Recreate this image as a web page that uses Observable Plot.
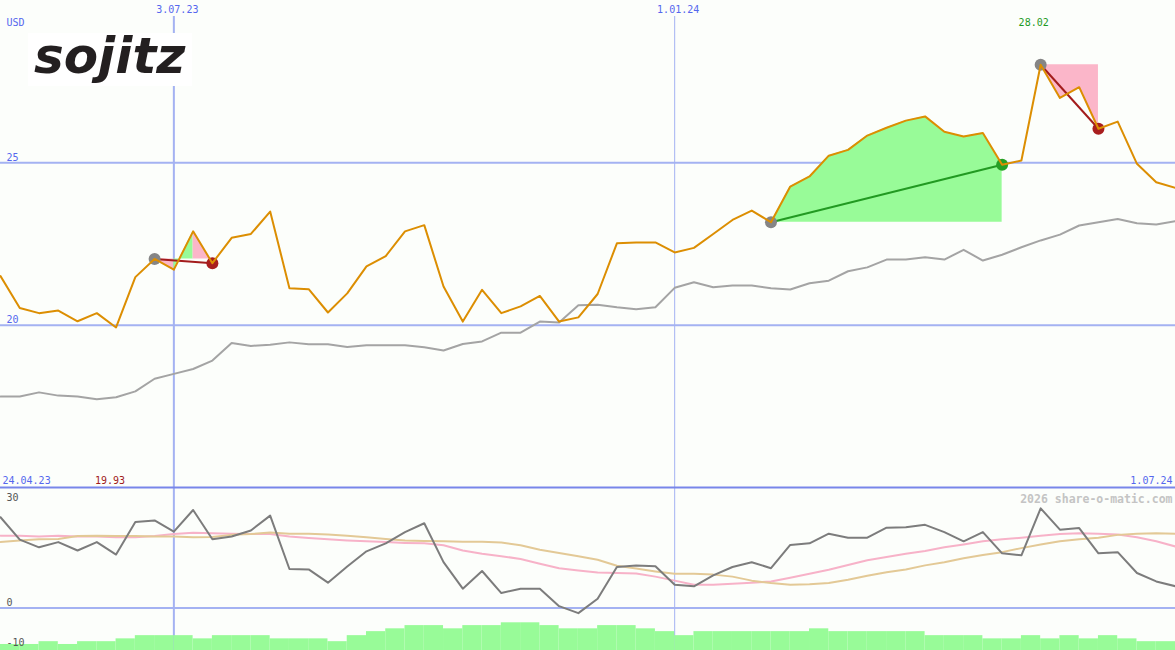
<!DOCTYPE html>
<html><head><meta charset="utf-8">
<script src="https://cdn.jsdelivr.net/npm/d3@7"></script>
<script src="https://cdn.jsdelivr.net/npm/@observablehq/plot@0.6"></script>
<style>
html,body{margin:0;padding:0;background:#fcfefb;}
#wrap{position:relative;width:1175px;height:650px;overflow:hidden;background:#fcfefb;}
#wrap svg{position:absolute;left:0;display:block;overflow:hidden;}
#logo{position:absolute;left:28px;top:33px;width:164px;height:53px;background:#fff;}
#logo span{position:absolute;left:6px;top:0px;font-family:"DejaVu Sans",sans-serif;font-weight:bold;font-style:oblique;font-size:50px;line-height:46px;color:#231f20;white-space:nowrap;}
</style></head><body>
<div id="wrap"><div id="logo"><span id="brand"></span></div></div>
<script>
// ---- data (weekly closes, USD) ----
const firstWeek = "2023-05-01";
const lastWeek = "2024-07-01";
const axisStartLabel = "2023-04-24";
const currency = "USD";
const brand = "sojitz";
const credit = "2026 share-o-matic.com";

const price = [21.51,20.53,20.37,20.45,20.12,20.37,19.93,21.48,22.04,21.71,
  22.89,21.91,22.69,22.81,23.50,21.14,21.11,20.39,20.98,21.81,
  22.13,22.89,23.08,21.19,20.11,21.09,20.37,20.58,20.90,20.11,
  20.24,20.96,22.52,22.55,22.55,22.24,22.38,22.81,23.24,23.53,
  23.17,24.27,24.58,25.22,25.40,25.84,26.08,26.30,26.43,25.96,
  25.81,25.92,24.94,25.07,28.02,27.00,27.33,26.05,26.27,24.97,
  24.40,24.23];
const movingAvg = [17.80,17.80,17.93,17.83,17.80,17.72,17.78,17.96,18.35,18.50,
  18.65,18.91,19.45,19.36,19.40,19.47,19.41,19.41,19.33,19.38,
  19.38,19.38,19.32,19.22,19.42,19.50,19.77,19.77,20.11,20.08,
  20.61,20.63,20.55,20.49,20.55,21.15,21.32,21.17,21.22,21.22,
  21.14,21.10,21.29,21.37,21.66,21.78,22.02,22.02,22.09,22.02,
  22.32,21.99,22.17,22.40,22.61,22.79,23.07,23.17,23.27,23.14,
  23.10,23.20];
const oscillator = [22.6,17.0,15.1,16.4,14.3,16.4,13.3,21.4,21.8,19.0,
  24.4,17.1,17.8,19.3,23.0,9.7,9.6,6.3,10.3,14.1,
  16.1,18.9,21.1,11.4,4.8,9.2,3.7,4.8,4.8,0.45,
  -1.3,2.3,10.2,10.6,10.4,5.8,5.4,8.1,10.2,11.4,
  9.9,15.7,16.1,18.5,17.5,17.5,20.0,20.1,20.7,18.9,
  16.6,18.9,13.6,13.1,24.8,19.5,19.9,13.6,13.9,8.7,
  6.6,5.4];
const oscFast = [18.0,18.0,17.8,18.0,17.8,17.8,17.6,17.6,17.9,18.4,
  18.7,18.6,18.5,18.4,18.4,17.8,17.4,17.1,16.8,16.6,
  16.4,16.2,16.1,15.6,14.3,13.5,12.9,12.2,11.0,9.9,
  9.3,8.8,8.7,8.6,7.8,6.8,5.8,5.8,6.0,6.3,
  6.6,7.5,8.5,9.5,10.7,11.9,12.7,13.5,14.2,15.1,
  15.8,16.6,17.1,17.5,18.0,18.4,18.6,18.5,18.3,17.6,
  16.6,15.3];
const oscSlow = [16.4,16.8,17.1,17.2,17.9,18.0,17.9,17.9,17.8,17.8,
  17.6,17.7,18.2,18.4,18.8,18.5,18.5,18.3,18.0,17.6,
  17.2,16.8,16.7,16.6,16.5,16.5,16.3,15.6,14.5,13.7,
  12.9,12.0,10.5,9.8,9.1,8.5,8.5,8.3,7.8,6.8,
  6.2,5.8,5.9,6.2,7.0,8.0,8.9,9.6,10.6,11.4,
  12.4,13.2,13.9,14.9,15.8,16.6,17.1,17.5,18.2,18.5,
  18.6,18.5];
const volume = [1.5,1.5,2.2,1.5,2.2,2.2,2.9,3.7,3.7,3.7,
  2.9,3.7,3.7,3.7,2.9,2.9,2.9,2.2,3.7,4.7,
  5.4,6.2,6.2,5.4,6.2,6.2,6.9,6.9,6.2,5.4,
  5.4,6.2,6.2,5.4,4.7,3.7,4.7,4.7,4.7,4.7,
  4.7,4.7,5.4,4.7,4.7,4.7,4.7,4.7,3.7,3.7,
  3.7,2.9,2.9,3.7,2.9,3.7,2.9,3.7,2.9,2.2,
  2.2,2.2];
const gridDates = ["2023-07-03","2024-01-01"];
const gridWeights = [2, 1];
const priceTicks = [20, 25];
const priceDomain = [15, 30];
const oscTopTick = [30];
const oscTicks = [0, -10];
const oscDomain = [-10.6, 30];
const tradeStart = [8, 40, 54];
const tradeEnd = [11, 52, 57];

// ---- derived ----
document.getElementById("brand").textContent = brand;
const dates = d3.utcMonday.range(new Date(firstWeek), d3.utcDay.offset(new Date(lastWeek), 1));
const gd = gridDates.map(d => new Date(d));
const fmtDate = d3.utcFormat("%-d.%m.%y");
const fmtPrice = d3.format(".2f");
const rows = dates.map((date, i) => ({date, i, price: price[i], ma: movingAvg[i], osc: oscillator[i],
  fast: oscFast[i], slow: oscSlow[i], vol: volume[i], next: dates[i + 1] || d3.utcDay.offset(date, 7)}));
const iMin = d3.minIndex(price), iMax = d3.maxIndex(price);

const trades = tradeStart.map((s, t) => {
  const e = tradeEnd[t];
  return {s, e, d1: dates[s], d2: dates[e], p1: price[s], p2: price[e], gain: price[e] >= price[s]};
});
// fill runs: consecutive segments coloured by whether they end above the entry price
const segs = [];
trades.forEach((tr, t) => {
  let run = -1, prev = null;
  for (let i = tr.s; i < tr.e; i++) {
    const up = price[i + 1] >= tr.p1;
    if (up !== prev) { run++; prev = up; segs.push({seg: t + "-" + run, date: dates[i], base: tr.p1, price: price[i], up}); }
    segs.push({seg: t + "-" + run, date: dates[i + 1], base: tr.p1, price: price[i + 1], up});
  }
});

const W = 1175;
const grid = "#a4b2f2";
const blue = "#5567ee";
const mono = "DejaVu Sans Mono";
const xScale = {type: "utc", domain: [dates[0], dates[dates.length - 1]], range: [0, W]};

const mainPlot = Plot.plot({
  width: W, height: 487, margin: 0,
  style: {background: "transparent", overflow: "hidden"},
  x: {...xScale, axis: null},
  y: {domain: priceDomain, axis: null},
  color: {type: "identity"},
  marks: [
    Plot.ruleY(priceTicks, {stroke: grid, strokeWidth: 2}),
    Plot.ruleX(gd, {stroke: grid, strokeWidth: (d, i) => gridWeights[i], insetTop: 16}),
    Plot.areaY(segs, {x: "date", y1: "base", y2: "price", z: "seg", fill: d => d.up ? "#98fb98" : "#fbb6c9", curve: "linear"}),
    Plot.line(rows, {x: "date", y: "ma", stroke: "#a4a4a4", strokeWidth: 2}),
    Plot.link(trades, {x1: "d1", y1: "p1", x2: "d2", y2: "p2", stroke: d => d.gain ? "#229a22" : "#a31c1c", strokeWidth: 2}),
    Plot.dot(trades, {x: "d1", y: "p1", r: 6, fill: "#858585"}),
    Plot.dot(trades, {x: "d2", y: "p2", r: 6, fill: d => d.gain ? "#25a025" : "#a81e1e"}),
    Plot.line(rows, {x: "date", y: "price", stroke: "#dc8e02", strokeWidth: 2}),
    Plot.text([currency], {frameAnchor: "top-left", dx: 6, dy: 25, lineAnchor: "bottom", fill: blue, fontFamily: mono, fontSize: 10}),
    Plot.text(gd, {x: d => d, frameAnchor: "top", dy: 12, dx: 3.5, lineAnchor: "bottom", text: d => fmtDate(d), fill: blue, fontFamily: mono, fontSize: 10}),
    Plot.text(priceTicks, {y: d => d, frameAnchor: "left", dx: 6, dy: -2, lineAnchor: "bottom", textAnchor: "start", text: d => String(d), fill: blue, fontFamily: mono, fontSize: 10}),
    Plot.text([axisStartLabel], {frameAnchor: "bottom-left", dx: 2, dy: -4, lineAnchor: "bottom", text: d => fmtDate(new Date(d)), fill: blue, fontFamily: mono, fontSize: 10}),
    Plot.text([dates[dates.length - 1]], {frameAnchor: "bottom-right", dx: -3, dy: -4, lineAnchor: "bottom", text: d => fmtDate(d), fill: blue, fontFamily: mono, fontSize: 10}),
    Plot.text([iMin], {x: i => dates[i], frameAnchor: "bottom", dx: -6, dy: -4, lineAnchor: "bottom", text: i => fmtPrice(price[i]), fill: "#a01c1c", fontFamily: mono, fontSize: 10}),
    Plot.text([iMax], {x: i => dates[i], frameAnchor: "top", dx: -7, dy: 25, lineAnchor: "bottom", text: i => fmtPrice(price[i]), fill: "#1e9a1e", fontFamily: mono, fontSize: 10})
  ]
});

const lowerPlot = Plot.plot({
  width: W, height: 164, marginTop: 1, marginBottom: 0, marginLeft: 0, marginRight: 0,
  style: {background: "transparent", overflow: "hidden"},
  x: {...xScale, axis: null},
  y: {domain: oscDomain, axis: null},
  marks: [
    Plot.ruleX(gd, {stroke: grid, strokeWidth: (d, i) => gridWeights[i]}),
    Plot.ruleY(oscTicks.slice(0, 1), {stroke: grid, strokeWidth: 2}),
    Plot.line(rows, {x: "date", y: "fast", stroke: "#f7b2c8", strokeWidth: 2}),
    Plot.line(rows, {x: "date", y: "slow", stroke: "#e3c996", strokeWidth: 2}),
    Plot.line(rows, {x: "date", y: "osc", stroke: "#7c7c7c", strokeWidth: 2}),
    Plot.rectY(rows, {x1: "date", x2: "next", y1: oscDomain[0], y2: d => oscDomain[0] + d.vol, fill: "#98fb98", clip: true}),
    Plot.ruleY(oscTopTick, {stroke: "#7886ea", strokeWidth: 2}),
    Plot.text(oscTopTick, {y: d => d, frameAnchor: "left", dx: 6, dy: 6, lineAnchor: "top", text: d => String(d), fill: "#555", fontFamily: mono, fontSize: 10}),
    Plot.text(oscTicks, {y: d => d, frameAnchor: "left", dx: 6, dy: -2, lineAnchor: "bottom", text: d => String(d), fill: "#555", fontFamily: mono, fontSize: 10}),
    Plot.text([credit], {frameAnchor: "top-right", dx: -3, dy: 15, lineAnchor: "bottom", fill: "#c4c4c4", fontFamily: mono, fontWeight: "bold", fontSize: 11.5})
  ]
});

const wrap = document.getElementById("wrap");
mainPlot.style.top = "0px";
lowerPlot.style.top = "486px";
wrap.insertBefore(mainPlot, wrap.firstChild);
wrap.insertBefore(lowerPlot, mainPlot.nextSibling);
</script></body></html>
